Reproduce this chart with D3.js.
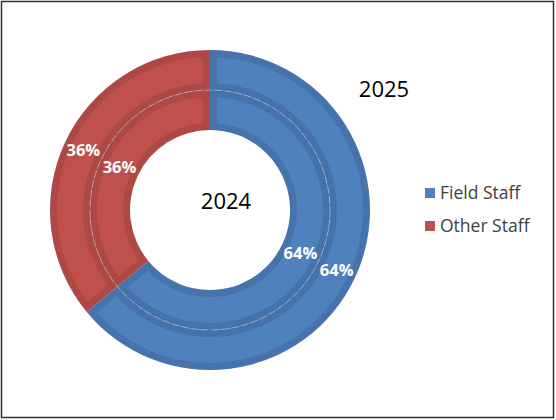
<!DOCTYPE html>
<html>
<head>
<meta charset="utf-8">
<script src="https://cdn.jsdelivr.net/npm/d3@7"></script>
<style>
  body { margin: 0; background: #fff; }
  text { font-family: "Open Sans", sans-serif; }
</style>
</head>
<body>
<svg id="chart" width="556" height="420"></svg>
<script>
// DATA
const categories = ["Field Staff", "Other Staff"];
const values2024 = [64, 36];
const values2025 = [64, 36];
const ringLabels = ["2024", "2025"];

// colours: fill + darker edge
const fills = ["#4F81BD", "#C0504D"];
const edges = ["#4673AB", "#AD4844"];

const svg = d3.select("#chart");

// frame round the whole chart
svg.append("rect")
  .attr("x", 1.5).attr("y", 1.5)
  .attr("width", 552).attr("height", 416)
  .attr("fill", "none")
  .attr("stroke", "#333")
  .attr("stroke-width", 1.5);

const cx = 210, cy = 210;
const g = svg.append("g").attr("transform", `translate(${cx},${cy})`);

const pie = d3.pie().sort(null).value(d => d.value);
const edgeW = 7;

// rings: inner = 2024, outer = 2025
const rings = [
  { values: values2024, r0: 80, r1: 120 },
  { values: values2025, r0: 120, r1: 160 }
];

rings.forEach(ring => {
  const arcs = pie(categories.map((c, i) => ({ cat: c, value: ring.values[i], i })));

  const outerArc = d3.arc().innerRadius(ring.r0).outerRadius(ring.r1);
  const innerArc = d3.arc()
    .innerRadius(ring.r0 + edgeW)
    .outerRadius(ring.r1 - edgeW)
    .padRadius(100)
    .padAngle(2 * edgeW / 100);

  // darker edge
  g.selectAll(null)
    .data(arcs)
    .enter()
    .append("path")
    .attr("d", outerArc)
    .attr("fill", d => edges[d.data.i]);

  // lighter face
  g.selectAll(null)
    .data(arcs)
    .enter()
    .append("path")
    .attr("d", innerArc)
    .attr("fill", d => fills[d.data.i]);

  // percent labels at centroid
  g.selectAll(null)
    .data(arcs)
    .enter()
    .append("text")
    .attr("transform", d => `translate(${outerArc.centroid(d)})`)
    .attr("text-anchor", "middle")
    .attr("dy", "0.36em")
    .attr("fill", "#fff")
    .attr("font-weight", "bold")
    .attr("font-size", 16.5)
    .text(d => d.data.value + "%");
});

// faint dashed seam between the two rings
g.append("circle")
  .attr("r", 120)
  .attr("fill", "none")
  .attr("stroke", "#b9c6dc")
  .attr("stroke-width", 1)
  .attr("stroke-dasharray", "7,3")
  .attr("opacity", 0.55);

// ring titles
svg.append("text")
  .attr("x", 226).attr("y", 209)
  .attr("text-anchor", "middle")
  .attr("font-size", 22)
  .attr("fill", "#000")
  .text(ringLabels[0]);

svg.append("text")
  .attr("x", 384).attr("y", 97)
  .attr("text-anchor", "middle")
  .attr("font-size", 22)
  .attr("fill", "#000")
  .text(ringLabels[1]);

// legend
const legend = svg.append("g").attr("transform", "translate(425,183)");
const item = legend.selectAll("g")
  .data(categories)
  .enter()
  .append("g")
  .attr("transform", (d, i) => `translate(0,${i * 33})`);

item.append("rect")
  .attr("x", 0).attr("y", 5)
  .attr("width", 10).attr("height", 10)
  .attr("fill", (d, i) => fills[i]);

item.append("text")
  .attr("x", 15).attr("y", 10)
  .attr("dy", "0.36em")
  .attr("font-size", 17.5)
  .attr("fill", "#404040")
  .text(d => d);
</script>
</body>
</html>
